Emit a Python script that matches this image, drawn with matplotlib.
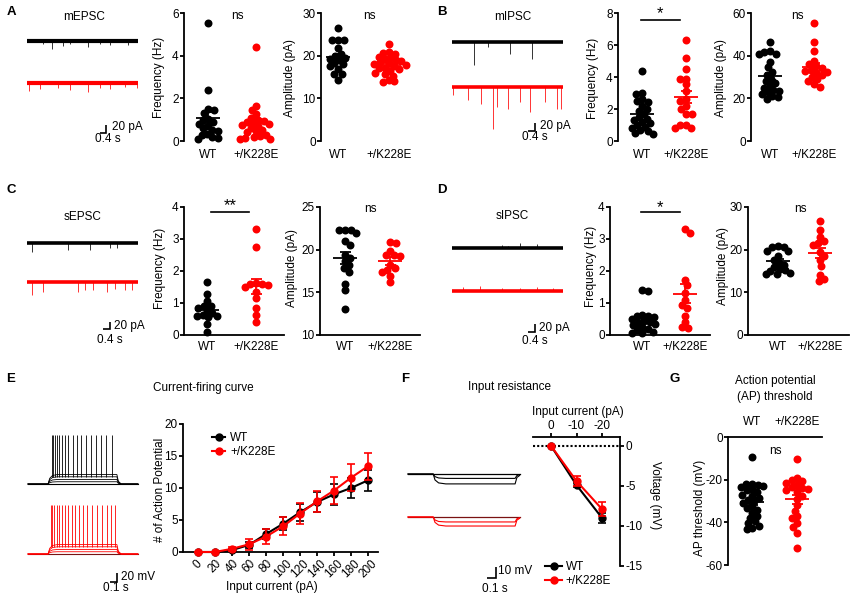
import numpy as np
import matplotlib
matplotlib.use('Agg')
import matplotlib.pyplot as plt

plt.rcParams['font.family'] = ['Liberation Sans', 'DejaVu Sans']
plt.rcParams['font.size'] = 8.5
plt.rcParams['axes.unicode_minus'] = False
plt.rcParams['axes.linewidth'] = 1.3
plt.rcParams['xtick.major.width'] = 1.3
plt.rcParams['ytick.major.width'] = 1.3
plt.rcParams['xtick.major.size'] = 2.6
plt.rcParams['ytick.major.size'] = 2.6
plt.rcParams['xtick.major.pad'] = 1.2
plt.rcParams['ytick.major.pad'] = 1.2

W, H = 850, 597
RED = '#ff0000'
DARK_RED = '#7a1212'

groups = ['WT', '+/K228E']

# ---- A: mEPSC ----
mepsc_freq_wt = [5.55, 2.4, 1.5, 1.45, 1.3, 1.05, 1.0, 0.9, 0.8, 0.7, 0.6, 0.5, 0.45, 0.35, 0.3, 0.2, 0.15, 0.1]
mepsc_freq_k = [4.42, 1.62, 1.45, 1.25, 1.1, 1.0, 0.95, 0.9, 0.85, 0.8, 0.75, 0.7, 0.6, 0.5, 0.45, 0.4, 0.3,
                0.25, 0.2, 0.15, 0.1, 0.1]
mepsc_amp_wt = [26.5, 23.7, 23.7, 23.7, 21.7, 20.5, 20.0, 19.5, 19.3, 19.0, 18.3, 17.5, 18.0, 16.8, 15.8, 15.7, 14.2]
mepsc_amp_k = [22.7, 20.8, 20.6, 20.3, 19.8, 19.5, 19.2, 19.0, 18.7, 18.5, 18.2, 18.0, 17.8, 17.5, 17.2, 17.0,
               16.8, 16.5, 16.0, 15.8, 15.3, 14.3, 14.0, 13.9]

# ---- B: mIPSC ----
mipsc_freq_wt = [4.4, 3.0, 2.95, 2.6, 2.5, 2.45, 2.2, 2.0, 1.9, 1.7, 1.5, 1.4, 1.3, 1.2, 1.1, 1.0, 0.9, 0.8, 0.7,
                 0.6, 0.5, 0.45]
mipsc_freq_k = [6.3, 5.2, 4.5, 3.9, 3.9, 3.55, 3.15, 2.6, 2.5, 2.2, 2.0, 1.7, 1.7, 1.0, 1.0, 0.8, 0.8]
mipsc_amp_wt = [46.5, 42.0, 41.8, 41.0, 40.8, 37.0, 34.5, 32.5, 31.0, 29.0, 28.0, 27.0, 26.0, 25.0, 24.0, 23.5,
                23.0, 22.0, 21.0, 20.5, 19.5]
mipsc_amp_k = [55.5, 46.5, 42.0, 37.5, 36.0, 35.0, 34.0, 33.5, 33.0, 32.5, 32.0, 31.0, 30.0, 29.0, 28.0, 26.5, 25.5]

# ---- C: sEPSC ----
sepsc_freq_wt = [1.65, 1.28, 1.05, 0.92, 0.9, 0.85, 0.75, 0.7, 0.62, 0.6, 0.58, 0.55, 0.35, 0.08]
sepsc_freq_k = [3.3, 2.75, 1.62, 1.6, 1.58, 1.55, 1.5, 1.35, 1.15, 0.85, 0.62, 0.42]
sepsc_amp_wt = [22.3, 22.3, 22.3, 21.9, 21.0, 20.6, 19.4, 19.0, 18.7, 18.2, 17.8, 17.4, 16.0, 15.3, 13.0]
sepsc_amp_k = [20.9, 20.8, 19.9, 19.4, 19.4, 19.3, 18.2, 17.6, 17.8, 17.4, 16.9, 16.2]

# ---- D: sIPSC ----
sipsc_freq_wt = [1.4, 1.38, 0.62, 0.6, 0.58, 0.55, 0.5, 0.45, 0.42, 0.38, 0.35, 0.3, 0.25, 0.2, 0.15, 0.1, 0.05, 0.05]
sipsc_freq_k = [3.3, 3.18, 1.72, 1.55, 1.3, 1.1, 0.95, 0.85, 0.6, 0.4, 0.25, 0.22]
sipsc_amp_wt = [20.8, 20.7, 20.6, 19.8, 19.7, 18.5, 17.5, 16.8, 16.5, 16.0, 15.5, 15.2, 15.0, 14.6, 14.3, 14.2]
sipsc_amp_k = [26.7, 24.5, 23.0, 22.0, 21.5, 21.2, 19.5, 18.5, 17.5, 16.2, 14.0, 13.2, 12.6]

# ---- E: current-firing curve ----
current_pA = [0, 20, 40, 60, 80, 100, 120, 140, 160, 180, 200]
ap_wt = [0, 0, 0.3, 1.1, 2.8, 4.4, 6.2, 7.8, 9.0, 10.0, 11.2]
ap_wt_sem = [0, 0, 0.2, 0.5, 0.8, 1.0, 1.3, 1.5, 1.6, 1.5, 1.65]
ap_k = [0, 0, 0.5, 1.2, 2.4, 4.0, 6.0, 7.9, 9.6, 11.6, 13.4]
ap_k_sem = [0, 0, 0.3, 0.9, 1.2, 1.4, 1.6, 1.7, 2.1, 2.1, 2.1]

# ---- F: input resistance ----
ir_current = [0, -10, -20]
ir_wt = [0, -4.9, -9.0]
ir_wt_sem = [0, 0.3, 0.6]
ir_k = [0, -4.4, -7.9]
ir_k_sem = [0, 0.6, 0.9]

# ---- G: AP threshold ----
apthr_wt = [-9.2, -21.8, -22.0, -22.5, -23.0, -23.5, -24.5, -25.0, -26.0, -27.0, -27.5, -28.5, -29.5, -30.0,
            -31.0, -32.5, -33.5, -34.0, -35.5, -37.0, -38.0, -39.5, -40.5, -41.5, -42.5, -43.2]
apthr_k = [-10.3, -19.0, -20.0, -20.5, -21.5, -22.5, -23.5, -24.0, -24.5, -25.0, -26.0, -27.5, -29.0, -32.0,
           -34.5, -37.0, -38.0, -40.5, -42.3, -45.2, -52.2]

# ---- example traces (event times in s, amplitudes in pA) ----
mepsc_dur = 7.4
mepsc_wt_t = [1.09, 1.64, 2.42, 2.87, 4.09, 4.87, 5.53, 6.76]
mepsc_wt_amp = [8, 20, 12, 8, 15, 8, 10, 10]
mepsc_k_t = [0.16, 0.87, 2.09, 2.87, 4.09, 4.87, 5.53, 6.53, 7.31]
mepsc_k_amp = [20, 15, 12, 18, 22, 12, 15, 10, 12]

mipsc_dur = 6.34
mipsc_wt_t = [1.26, 2.08, 3.31, 4.55]
mipsc_wt_amp = [57, 12, 30, 42]
mipsc_k_t = [0.08, 0.93, 1.66, 2.32, 2.55, 3.22, 3.89, 4.46, 5.31, 5.98, 6.25]
mipsc_k_amp = [20, 32, 42, 105, 50, 55, 38, 62, 38, 55, 55]

sepsc_dur = 6.34
sepsc_wt_t = [0.27, 2.36, 3.6, 4.74, 5.12]
sepsc_wt_amp = [26, 20, 20, 14, 14]
sepsc_k_t = [0.27, 0.93, 2.93, 3.31, 3.79, 4.55, 5.03, 5.6, 5.98]
sepsc_k_amp = [37, 29, 29, 23, 23, 29, 20, 23, 23]

sipsc_dur = 6.34
sipsc_wt_t = [2.84, 3.2, 3.89, 4.84]
sipsc_wt_amp = [8, 6, 12, 10]
sipsc_k_t = [0.65, 1.6, 2.84, 3.89, 4.84, 5.79]
sipsc_k_amp = [10, 12, 8, 8, 10, 8]

# firing traces (mV relative to rest)
fire_dur = 1.57
fire_step_t = [0, 0.286, 0.31, 0.35, 0.42, 1.27, 1.29, 1.33, 1.57]
fire_step_shape = [0, 0, 0.6, 0.9, 1, 1, 0.3, 0, 0]
fire_sub_levels = [5, 10, 16]
fire_plateau = 21
fire_peak = 108
spike_t_wt = [0.339, 0.361, 0.386, 0.41, 0.447, 0.486, 0.529, 0.576, 0.639, 0.696, 0.753, 0.829, 0.896, 0.967,
              1.039, 1.114, 1.196]
spike_t_k = [0.324, 0.347, 0.376, 0.41, 0.447, 0.486, 0.529, 0.576, 0.624, 0.676, 0.729, 0.786, 0.847, 0.914,
             0.981, 1.053, 1.124, 1.186, 1.243]

# hyperpolarising steps (mV)
ir_dur = 1.24
ir_step_t = [0, 0.28, 0.30, 0.34, 0.42, 1.19, 1.21, 1.24]
ir_step_shape = [0, 0, 0.6, 0.9, 1, 1, 0.35, 0.15]
ir_levels_wt = [-4.0, -9.0]
ir_levels_k = [-4.5, -8.2]


fig = plt.figure(figsize=(W / 100, H / 100), dpi=100)


def px_axes(x0, y0, x1, y1):
    ax = fig.add_axes([x0 / W, 1 - y1 / H, (x1 - x0) / W, (y1 - y0) / H])
    ax.set_facecolor('none')
    return ax


def ptext(x, y, s, **kw):
    kw.setdefault('ha', 'center')
    kw.setdefault('va', 'center')
    fig.text(x / W, 1 - y / H, s, **kw)


def px2data(ax, x, y):
    return ax.transData.inverted().transform((x, H - y))


def swarm_x(ax, pos, vals, dmin=5.6):
    # simple beeswarm in pixel space
    tr = ax.transData
    cx = tr.transform((pos, 0))[0]
    placed = []
    xs = np.zeros(len(vals))
    order = np.argsort(vals)[::-1]
    for n, i in enumerate(order):
        yp = tr.transform((pos, vals[i]))[1]
        hit = 0.0
        for k in range(200):
            d = 0.5 * k
            cands = [0.0] if k == 0 else ([d, -d] if n % 2 else [-d, d])
            ok = [o for o in cands
                  if all((cx + o - px) ** 2 + (yp - py) ** 2 >= dmin ** 2 for px, py in placed)]
            if ok:
                hit = ok[0]
                break
        placed.append((cx + hit, yp))
        xs[i] = tr.inverted().transform((cx + hit, yp))[0]
    return xs


def dot_plot(box, wt_px, k_px, ylim, yticks, wt, k, style='open', pad=5.5):
    x0, y0, x1, y1 = box
    ax = px_axes(*box)
    sc = k_px - wt_px
    ax.set_xlim(1 - (wt_px - x0) / sc, 2 + (x1 - k_px) / sc)
    ax.set_ylim(*ylim)
    ax.set_yticks(yticks)
    ax.spines['right'].set_visible(False)
    if style == 'top':
        ax.spines['bottom'].set_visible(False)
        ax.xaxis.tick_top()
    else:
        ax.spines['top'].set_visible(False)
        if style == 'open':
            ax.spines['bottom'].set_visible(False)
    ax.set_xticks([1, 2], groups)
    ax.tick_params(axis='x', length=0, pad=pad)
    for pos, vals, col in ((1, wt, 'black'), (2, k, RED)):
        vals = np.asarray(vals, float)
        xs = swarm_x(ax, pos, vals)
        ax.scatter(xs, vals, s=33, color=col, lw=0, zorder=3, clip_on=False)
        m = vals.mean()
        se = vals.std(ddof=1) / np.sqrt(len(vals))
        hw, cw = 12 / sc, 5.5 / sc
        ax.hlines(m, pos - hw, pos + hw, color=col, lw=1.3, zorder=4)
        ax.vlines(pos, m - se, m + se, color=col, lw=1.3, zorder=4)
        ax.hlines([m - se, m + se], pos - cw, pos + cw, color=col, lw=1.3, zorder=4)
    return ax


def sig_bar(ax, x0, x1, y):
    (a, b), (c, _) = px2data(ax, x0, y), px2data(ax, x1, y)
    ax.plot([a, c], [b, b], color='black', lw=1.2, clip_on=False)


def trace_axes(box, ox, oy, sx, sy):
    x0, y0, x1, y1 = box
    ax = px_axes(*box)
    ax.set_xlim((x0 - ox) / sx, (x1 - ox) / sx)
    ax.set_ylim((oy - y1) / sy, (oy - y0) / sy)
    ax.axis('off')
    return ax


def event_trace(ax, dur, times, amps, offset, color, sign=-1, band=3.0):
    ax.plot([0, dur], [offset, offset], color=color, lw=band, solid_capstyle='butt')
    amps = np.asarray(amps, float)
    ax.vlines(times, offset, offset + sign * amps, color=color, lw=0.7, alpha=0.8)


def scale_bar(ax, cx, cy, dx, dy, ylab, xlab, ylab_pos, xlab_pos):
    x, y = px2data(ax, cx, cy)
    ax.plot([x - dx, x, x], [y, y, y + dy], color='black', lw=1.2, clip_on=False,
            solid_joinstyle='miter', solid_capstyle='butt')
    ptext(ylab_pos[0], ylab_pos[1], ylab, ha='left')
    ptext(xlab_pos[0], xlab_pos[1], xlab, ha='left')


# ================= A =================
ptext(11, 12, 'A', fontweight='bold', fontsize=9.5)
ptext(84, 17, 'mEPSC')
ax = trace_axes((20, 25, 180, 150), 27, 41, 15, 0.4)
event_trace(ax, mepsc_dur, mepsc_wt_t, mepsc_wt_amp, 0, 'black')
event_trace(ax, mepsc_dur, mepsc_k_t, mepsc_k_amp, -(83 - 41) / 0.4, RED)
scale_bar(ax, 106, 133, 0.4, 20, '20 pA', '0.4 s', (112, 127), (95, 139))

dot_plot((184, 13, 282, 141), 208, 256, (0, 6), [0, 2, 4, 6], mepsc_freq_wt, mepsc_freq_k)
ptext(159, 77, 'Frequency (Hz)', rotation=90)
ptext(237, 16, 'ns')
dot_plot((321, 13, 415, 141), 338, 389, (0, 30), [0, 10, 20, 30], mepsc_amp_wt, mepsc_amp_k)
ptext(290, 78, 'Amplitude (pA)', rotation=90)
ptext(369, 16, 'ns')

# ================= B =================
ptext(442, 12, 'B', fontweight='bold', fontsize=9.5)
ptext(513, 17, 'mIPSC')
ax = trace_axes((445, 25, 600, 150), 452, 42, 17.5, 0.4)
event_trace(ax, mipsc_dur, mipsc_wt_t, mipsc_wt_amp, 0, 'black', band=2.6)
event_trace(ax, mipsc_dur, mipsc_k_t, mipsc_k_amp, -(87 - 42) / 0.4, RED, band=2.6)
scale_bar(ax, 535, 131, 0.4, 20, '20 pA', '0.4 s', (540, 126), (522, 137))

ax = dot_plot((618, 13, 712, 141), 642, 686, (0, 8), [0, 2, 4, 6, 8], mipsc_freq_wt, mipsc_freq_k)
ptext(593, 78, 'Frequency (Hz)', rotation=90)
sig_bar(ax, 641, 680, 20)
ptext(660, 14, '*', fontsize=12)
dot_plot((751, 13, 845, 141), 770, 814, (0, 60), [0, 20, 40, 60], mipsc_amp_wt, mipsc_amp_k)
ptext(721, 78, 'Amplitude (pA)', rotation=90)
ptext(797, 16, 'ns')

# ================= C =================
ptext(11, 190, 'C', fontweight='bold', fontsize=9.5)
ptext(83, 217, 'sEPSC')
ax = trace_axes((20, 225, 180, 345), 27, 243, 17.5, 0.35)
event_trace(ax, sepsc_dur, sepsc_wt_t, sepsc_wt_amp, 0, 'black', band=2.6)
event_trace(ax, sepsc_dur, sepsc_k_t, sepsc_k_amp, -(282 - 243) / 0.35, RED, band=2.6)
scale_bar(ax, 110, 329, 0.4, 20, '20 pA', '0.4 s', (114, 326), (97, 340))

ax = dot_plot((184, 207, 284, 335), 207, 256, (0, 4), [0, 1, 2, 3, 4], sepsc_freq_wt, sepsc_freq_k,
              style='box', pad=4.5)
ptext(160, 268, 'Frequency (Hz)', rotation=90)
sig_bar(ax, 211, 249, 212)
ptext(230, 206, '**', fontsize=12)
dot_plot((320, 207, 420, 335), 345, 390, (10, 25), [10, 15, 20, 25], sepsc_amp_wt, sepsc_amp_k,
         style='box', pad=4.5)
ptext(292, 268, 'Amplitude (pA)', rotation=90)
ptext(370, 209, 'ns')

# ================= D =================
ptext(442, 190, 'D', fontweight='bold', fontsize=9.5)
ptext(512, 216, 'sIPSC')
ax = trace_axes((445, 225, 600, 345), 452, 248, 17.5, 0.4)
event_trace(ax, sipsc_dur, sipsc_wt_t, sipsc_wt_amp, 0, 'black', sign=1, band=2.6)
event_trace(ax, sipsc_dur, sipsc_k_t, sipsc_k_amp, -(291 - 248) / 0.4, RED, sign=1, band=2.6)
scale_bar(ax, 535, 332, 0.4, 20, '20 pA', '0.4 s', (539, 328), (522, 341))

ax = dot_plot((610, 207, 710, 335), 642, 685, (0, 4), [0, 1, 2, 3, 4], sipsc_freq_wt, sipsc_freq_k,
              style='box', pad=4.5)
ptext(591, 266, 'Frequency (Hz)', rotation=90)
sig_bar(ax, 641, 680, 212)
ptext(660, 208, '*', fontsize=12)
dot_plot((748, 207, 849, 335), 778, 820, (0, 30), [0, 10, 20, 30], sipsc_amp_wt, sipsc_amp_k,
         style='box', pad=4.5)
ptext(723, 266, 'Amplitude (pA)', rotation=90)
ptext(800, 209, 'ns')

# ================= E =================
ptext(11, 379, 'E', fontweight='bold', fontsize=9.5)
ptext(203, 388, 'Current-firing curve')
ax = trace_axes((20, 425, 180, 597), 28, 484, 70, 0.45)
red_off = -(554 - 484) / 0.45
for off, col, base, spikes in ((0, 'black', 'black', spike_t_wt), (red_off, RED, DARK_RED, spike_t_k)):
    shape = np.asarray(fire_step_shape)
    ax.plot([0, fire_dur], [off, off], color=base, lw=0.8)
    for lev in fire_sub_levels:
        ax.plot(fire_step_t, off + lev * shape, color=col, lw=0.6)
    ax.plot(fire_step_t, off + fire_plateau * shape, color=col, lw=0.6)
    ax.vlines(spikes, off + fire_plateau - 6, off + fire_peak, color=col, lw=0.6)
scale_bar(ax, 117, 582, 0.1, 20, '20 mV', '0.1 s', (121, 577), (103, 588))

axE = px_axes(183, 424, 378, 552)
axE.set_xlim(-17.6, 211.8)
axE.set_ylim(0, 20)
axE.spines[['top', 'right']].set_visible(False)
axE.set_xticks(current_pA)
axE.set_yticks([0, 5, 10, 15, 20])
axE.tick_params(axis='x', rotation=45, pad=1.5)
axE.errorbar(current_pA, ap_wt, yerr=ap_wt_sem, fmt='none', ecolor='black', elinewidth=1.2,
             capsize=3, capthick=1.2, zorder=3)
axE.plot(current_pA, ap_wt, '-o', color='black', ms=5, lw=1.5, label='WT', zorder=4, clip_on=False)
axE.errorbar(current_pA, ap_k, yerr=ap_k_sem, fmt='none', ecolor=RED, elinewidth=1.2,
             capsize=3, capthick=1.2, zorder=5)
axE.plot(current_pA, ap_k, '-o', color=RED, ms=5, lw=1.5, label='+/K228E', zorder=6, clip_on=False)
axE.legend(loc='upper left', bbox_to_anchor=(0.149, 0.94), frameon=False, borderpad=0, borderaxespad=0,
           handlelength=1.1, handletextpad=0.45, labelspacing=0.2)
ptext(160, 490, '# of Action Potential', rotation=90)
ptext(272, 587, 'Input current (pA)')

# ================= F =================
ptext(405, 379, 'F', fontweight='bold', fontsize=9.5)
ptext(510, 387, 'Input resistance')
ax = trace_axes((400, 440, 540, 597), 408, 474, 90, 1.1)
red_off = -(517 - 474) / 1.1
for off, col, base, levels in ((0, 'black', 'black', ir_levels_wt), (red_off, RED, DARK_RED, ir_levels_k)):
    shape = np.asarray(ir_step_shape)
    ax.plot([0, ir_dur], [off, off], color=base, lw=0.9)
    for lev in levels:
        ax.plot(ir_step_t, off + lev * shape, color=col, lw=0.8)
scale_bar(ax, 496, 578, 0.1, 10, '10 mV', '0.1 s', (498, 571), (482, 589))

axF = px_axes(533, 437, 620, 566)
axF.set_xlim(7.06, -27.06)
axF.set_ylim(-15, 1.1)
axF.spines[['left', 'bottom']].set_visible(False)
axF.xaxis.tick_top()
axF.yaxis.tick_right()
axF.set_xticks(ir_current)
axF.set_yticks([0, -5, -10, -15])
axF.axhline(0, color='black', lw=1.5, ls=(0, (1, 1)), zorder=1)
axF.errorbar(ir_current, ir_wt, yerr=ir_wt_sem, fmt='none', ecolor='black', elinewidth=1.2,
             capsize=3, capthick=1.2, zorder=3)
axF.plot(ir_current, ir_wt, '-o', color='black', ms=5, lw=1.5, label='WT', zorder=4, clip_on=False)
axF.errorbar(ir_current, ir_k, yerr=ir_k_sem, fmt='none', ecolor=RED, elinewidth=1.2,
             capsize=3, capthick=1.2, zorder=5)
axF.plot(ir_current, ir_k, '-o', color=RED, ms=5, lw=1.5, label='+/K228E', zorder=6, clip_on=False)
axF.legend(loc='upper left', bbox_to_anchor=(0.138, 0.04), frameon=False, borderpad=0, borderaxespad=0,
           handlelength=1.45, handletextpad=0.3, labelspacing=0.2)
ptext(578, 412, 'Input current (pA)')
ptext(655, 495, 'Voltage (mV)', rotation=270)

# ================= G =================
ptext(675, 379, 'G', fontweight='bold', fontsize=9.5)
ptext(775, 381, 'Action potential')
ptext(775, 397, '(AP) threshold')
dot_plot((728, 437, 822, 565), 752, 797, (-60, 0), [0, -20, -40, -60], apthr_wt, apthr_k, style='top', pad=6.5)
ptext(700, 508, 'AP threshold (mV)', rotation=90)
ptext(775, 451, 'ns')

fig.savefig('out.png', dpi=100)
